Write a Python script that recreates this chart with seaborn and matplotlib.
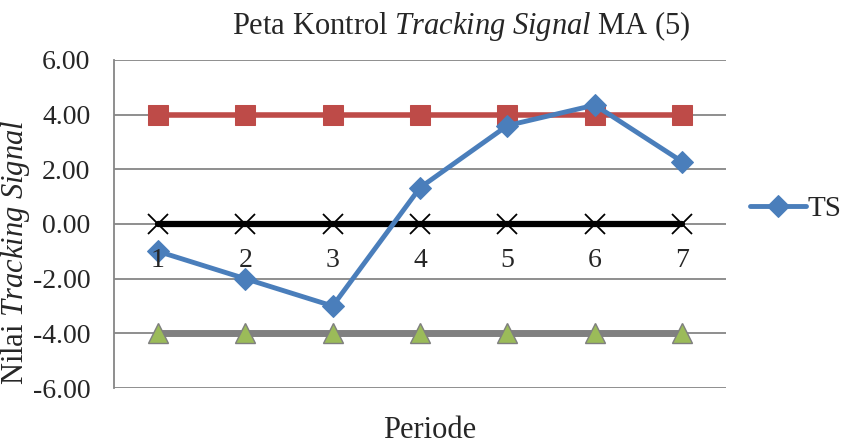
import pandas as pd
import matplotlib.pyplot as plt
import seaborn as sns

# data
periode = [1, 2, 3, 4, 5, 6, 7]
ts = [-1.0, -2.0, -3.0, 1.33, 3.6, 4.35, 2.28]
ucl = [4, 4, 4, 4, 4, 4, 4]
center = [0, 0, 0, 0, 0, 0, 0]
lcl = [-4, -4, -4, -4, -4, -4, -4]
y_ticks = [-6, -4, -2, 0, 2, 4, 6]

sns.set_theme(style="white")
plt.rcParams["font.family"] = ["Liberation Serif", "DejaVu Serif"]
plt.rcParams["mathtext.fontset"] = "custom"
plt.rcParams["mathtext.rm"] = "Liberation Serif"
plt.rcParams["mathtext.it"] = "Liberation Serif:italic"

df = pd.DataFrame({"periode": periode, "TS": ts, "UCL": ucl, "CL": center, "LCL": lcl})

fig = plt.figure(figsize=(8.46, 4.44), dpi=100)
ax = fig.add_axes([0.135, 0.126, 0.723, 0.739])

# horizontal gridlines
for v in y_ticks:
    ax.axhline(v, color="#868686", lw=1.3, zorder=0)

sns.lineplot(data=df, x="periode", y="LCL", ax=ax, color="#808080", lw=5,
             marker="^", markersize=15, markerfacecolor="#9BBB59",
             markeredgecolor="#7F7F7F", markeredgewidth=1, zorder=2)
sns.lineplot(data=df, x="periode", y="CL", ax=ax, color="black", lw=4.5,
             marker="x", markersize=15, markeredgewidth=1.3,
             markeredgecolor="black", zorder=3)
sns.lineplot(data=df, x="periode", y="UCL", ax=ax, color="#BE4B48", lw=4,
             marker="s", markersize=14, markerfacecolor="#BE4B48",
             markeredgecolor="#BE4B48", zorder=3)
sns.lineplot(data=df, x="periode", y="TS", ax=ax, color="#4A7EBB", lw=3.5,
             marker="D", markersize=11, markerfacecolor="#4A7EBB",
             markeredgecolor="#4A7EBB", zorder=4, label="TS")

for s in ["top", "right"]:
    ax.spines[s].set_visible(False)
ax.spines["left"].set_color("#868686")
ax.spines["left"].set_linewidth(1.3)
ax.spines["bottom"].set_position(("data", 0))
ax.spines["bottom"].set_visible(False)

ax.set_xlim(0.5, 7.5)
ax.set_ylim(-6, 6)
ax.set_yticks(y_ticks)
ax.set_yticklabels([f"{v:.2f}" for v in y_ticks])
ax.set_xticks(periode)
ax.set_xticklabels([str(p) for p in periode])
ax.tick_params(axis="y", direction="out", length=7, width=1.3, color="#868686",
               pad=10, labelsize=20)
ax.tick_params(axis="x", length=0, pad=17, labelsize=20)
ax.xaxis.set_zorder(5)

ax.set_xlabel("Periode", fontsize=22)
ax.xaxis.set_label_coords(0.516, -0.085)
ax.set_ylabel(r"Nilai $\it{Tracking\ Signal}$", fontsize=22)
ax.yaxis.set_label_coords(-0.135, 0.415)
ax.set_title(r"Peta Kontrol $\it{Tracking\ Signal}$ MA (5)", fontsize=22,
             x=0.567, y=1.0, pad=19)

ax.legend(loc="center left", bbox_to_anchor=(1.04, 0.545), frameon=False,
          fontsize=21, handlelength=1.9, handletextpad=0.05,
          borderaxespad=0, borderpad=0)

fig.savefig("out.png", dpi=100)
